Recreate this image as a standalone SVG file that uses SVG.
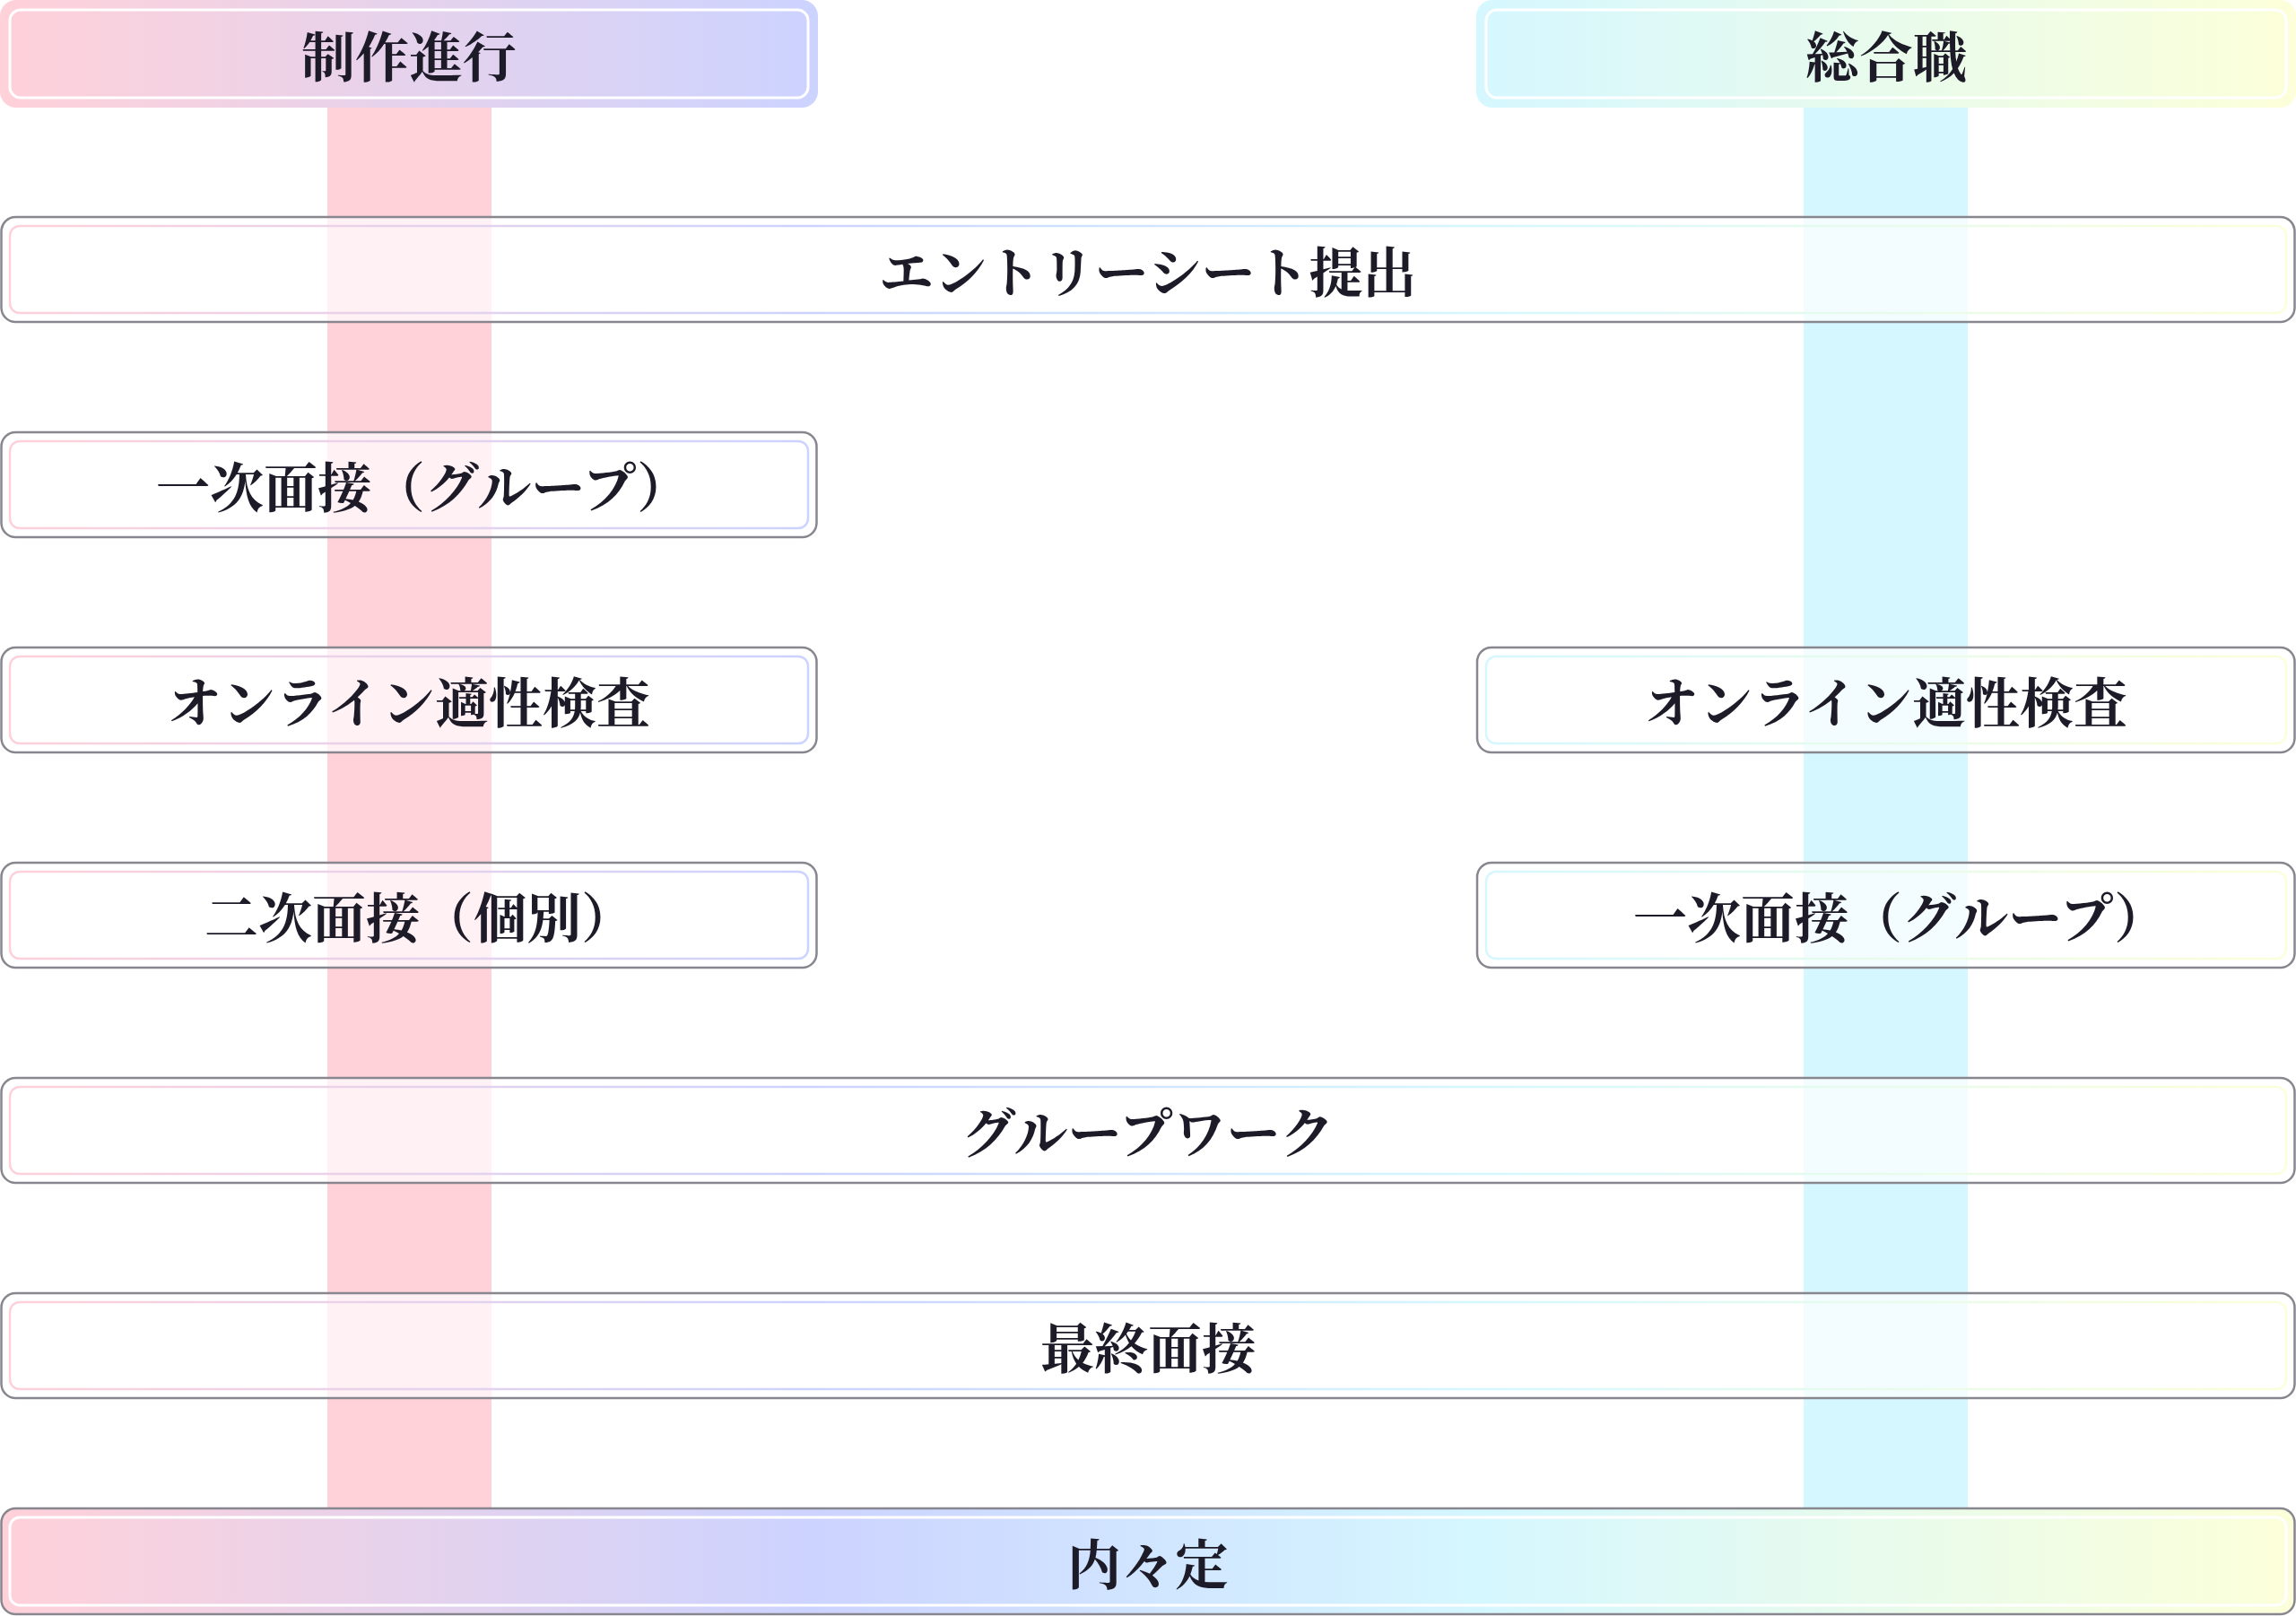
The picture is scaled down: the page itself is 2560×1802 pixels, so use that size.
<svg xmlns="http://www.w3.org/2000/svg" width="2560" height="1802" viewBox="0 0 2560 1802">
<defs>
<linearGradient id="rainbow" gradientUnits="userSpaceOnUse" x1="0" y1="0" x2="2560" y2="0">
<stop offset="0" stop-color="#ffd1d9"/>
<stop offset="0.356" stop-color="#ccd3ff"/>
<stop offset="0.643" stop-color="#d5f7ff"/>
<stop offset="1" stop-color="#fcffd9"/>
</linearGradient>
<style>
.lbl{font-family:"Noto Serif CJK JP","Noto Sans CJK JP",serif;font-weight:bold;font-size:60px;fill:#1e1b29;text-anchor:middle;dominant-baseline:central}
.box{fill:#ffffff;fill-opacity:0.7;stroke:#88878f;stroke-width:2.5}
.inner{fill:none;stroke:url(#rainbow);stroke-width:2.5}
.head{fill:url(#rainbow)}
.headin{fill:none;stroke:#ffffff;stroke-width:3}
</style>
</defs>
<rect width="2560" height="1802" fill="#ffffff"/>
<g id="lanes">
<rect x="365" y="60" width="183" height="1640" fill="#ffd1d9"/>
<rect x="2011" y="60" width="183" height="1640" fill="#d5f7ff"/>
</g>
<g id="connectors"></g>
<g id="header-seisaku">
<rect class="head" x="0" y="0" width="912" height="120" rx="18"/>
<rect class="headin" x="11" y="11" width="890" height="98" rx="12"/>
<text class="lbl" x="456" y="60">制作進行</text>
</g>
<g id="header-sougou">
<rect class="head" x="1646" y="0" width="914" height="120" rx="18"/>
<rect class="headin" x="1657" y="11" width="892" height="98" rx="12"/>
<text class="lbl" x="2103" y="60">総合職</text>
</g>
<g id="entry">
<rect class="box" x="1.5" y="242" width="2557" height="117" rx="16"/>
<rect class="inner" x="11" y="252" width="2538" height="97" rx="11"/>
<text class="lbl" x="1280" y="300">エントリーシート提出</text>
</g>
<g id="seisaku-group1">
<rect class="box" x="1.5" y="482" width="909" height="117" rx="16"/>
<rect class="inner" x="11" y="492" width="890" height="97" rx="11"/>
<text class="lbl" x="472" y="540">一次面接（グループ）</text>
</g>
<g id="seisaku-online">
<rect class="box" x="1.5" y="722" width="909" height="117" rx="16"/>
<rect class="inner" x="11" y="732" width="890" height="97" rx="11"/>
<text class="lbl" x="456" y="780">オンライン適性検査</text>
</g>
<g id="seisaku-kobetsu">
<rect class="box" x="1.5" y="962" width="909" height="117" rx="16"/>
<rect class="inner" x="11" y="972" width="890" height="97" rx="11"/>
<text class="lbl" x="468" y="1020">二次面接（個別）</text>
</g>
<g id="sougou-online">
<rect class="box" x="1647" y="722" width="911.5" height="117" rx="16"/>
<rect class="inner" x="1657" y="732" width="892" height="97" rx="11"/>
<text class="lbl" x="2103" y="780">オンライン適性検査</text>
</g>
<g id="sougou-group1">
<rect class="box" x="1647" y="962" width="911.5" height="117" rx="16"/>
<rect class="inner" x="1657" y="972" width="892" height="97" rx="11"/>
<text class="lbl" x="2119" y="1020">一次面接（グループ）</text>
</g>
<g id="groupwork">
<rect class="box" x="1.5" y="1202" width="2557" height="117" rx="16"/>
<rect class="inner" x="11" y="1212" width="2538" height="97" rx="11"/>
<text class="lbl" x="1280" y="1260">グループワーク</text>
</g>
<g id="final">
<rect class="box" x="1.5" y="1442" width="2557" height="117" rx="16"/>
<rect class="inner" x="11" y="1452" width="2538" height="97" rx="11"/>
<text class="lbl" x="1280" y="1500">最終面接</text>
</g>
<g id="naitei">
<rect x="1.5" y="1682" width="2557" height="118" rx="16" fill="url(#rainbow)" stroke="#88878f" stroke-width="2.5"/>
<rect class="headin" x="11" y="1692" width="2538" height="98" rx="11"/>
<text class="lbl" x="1280" y="1741">内々定</text>
</g>
</svg>
